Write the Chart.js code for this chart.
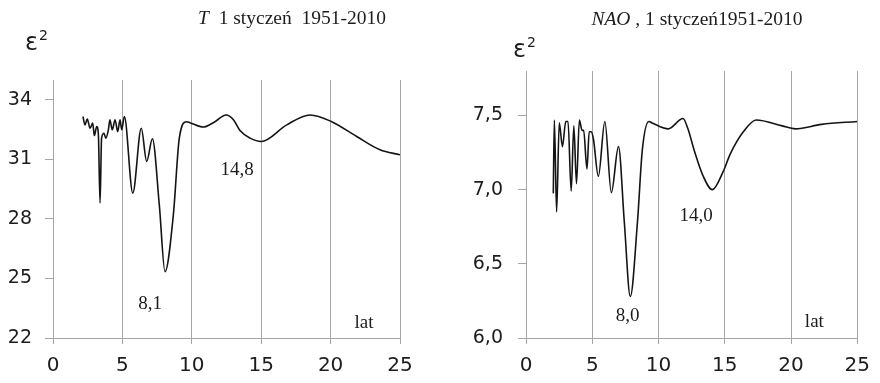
<!DOCTYPE html>
<html>
<head>
<meta charset="utf-8">
<script src="https://cdn.jsdelivr.net/npm/chart.js@4.4.1/dist/chart.umd.min.js"></script>
<style>
  body { margin: 0; background: #fff; }
  .panel { position: absolute; top: 0; width: 440px; height: 383px; }
  #left { left: 0; }
  #right { left: 440px; }
</style>
</head>
<body>
<div class="panel" id="left"><canvas id="chart-t"></canvas></div>
<div class="panel" id="right"><canvas id="chart-nao"></canvas></div>
<script>
// T, 1 styczeń 1951-2010
const tPeriods = [2.16, 2.3, 2.47, 2.67, 2.86, 2.98, 3.15, 3.27, 3.39, 3.5, 3.67, 3.8, 3.99, 4.1, 4.27, 4.47, 4.66, 4.83, 4.95, 5.14,
  5.75, 6.36, 6.75, 7.16, 7.66, 8.07, 8.67, 9.1, 9.63, 9.87, 10.83, 11.67, 12.46, 13.0, 13.47, 14.2, 15.0, 16.84, 18.52, 20.08, 21.88, 23.56, 25.0];
const tErrors = [33.16, 32.74, 33.03, 32.57, 32.83, 32.2, 32.66, 32.24, 28.8, 32.07, 32.32, 32.07, 32.49, 33.0, 32.49, 33.0, 32.4, 33.0, 32.49, 33.16,
  29.3, 32.57, 30.9, 32.04, 28.7, 25.34, 28.2, 32.07, 32.9, 32.85, 32.63, 32.9, 33.24, 33.0, 32.45, 32.07, 31.9, 32.74, 33.24, 32.9, 32.15, 31.48, 31.23];
const tTicks = [22, 25, 28, 31, 34];

// NAO, 1 styczeń 1951-2010
const naoPeriods = [2.06, 2.14, 2.31, 2.51, 2.75, 3.0, 3.17, 3.41, 3.61, 3.81, 4.03, 4.23, 4.35, 4.6, 4.77, 4.92, 5.09, 5.46, 5.95, 6.44,
  6.98, 7.42, 7.87, 8.41, 8.78, 9.27, 9.51, 10.74, 11.85, 12.22, 12.71, 13.33, 14.06, 14.87, 15.41, 16.4, 17.37, 19.34, 20.33, 22.3, 25.0];
const naoErrors = [6.975, 7.47, 6.85, 7.45, 7.29, 7.46, 7.46, 6.99, 7.43, 7.04, 7.47, 7.40, 7.40, 7.14, 7.39, 7.39, 7.34, 7.09, 7.46, 6.98,
  7.29, 6.78, 6.28, 6.78, 7.27, 7.46, 7.45, 7.41, 7.48, 7.41, 7.26, 7.10, 7.0, 7.12, 7.24, 7.39, 7.47, 7.43, 7.41, 7.44, 7.46];
const naoTicks = [6.0, 6.5, 7.0, 7.5];

const xTicks = [0, 5, 10, 15, 20, 25];

const GRID = '#a6a6a6';
const TEXT = '#1c1c1c';
const SANS = '"DejaVu Sans", sans-serif';
const SERIF = '"Liberation Serif", "Times New Roman", serif';

/** Titles, epsilon label and in-plot annotations */
const textPlugin = {
  id: 'texts',
  afterDraw(chart, args, opts) {
    const ctx = chart.ctx;
    ctx.save();
    ctx.fillStyle = TEXT;
    ctx.textBaseline = 'middle';

    // title: italic part + normal part, centred
    ctx.font = 'italic 19.5px ' + SERIF;
    const w1 = ctx.measureText(opts.titleItalic).width;
    ctx.font = '19.5px ' + SERIF;
    const w2 = ctx.measureText(opts.titleRest).width;
    const x = opts.titleX - (w1 + w2) / 2;
    ctx.textAlign = 'left';
    ctx.font = 'italic 19.5px ' + SERIF;
    ctx.fillText(opts.titleItalic, x, opts.titleY);
    ctx.font = '19.5px ' + SERIF;
    ctx.fillText(opts.titleRest, x + w1, opts.titleY);

    // epsilon squared
    ctx.font = '24px ' + SANS;
    ctx.fillText('ε', opts.epsX, opts.epsY);
    const we = ctx.measureText('ε').width;
    ctx.font = '14px ' + SANS;
    ctx.fillText('2', opts.epsX + we + 1, opts.epsY - 8);

    // annotations in data coordinates
    const xs = chart.scales.x, ys = chart.scales.y;
    ctx.textAlign = 'center';
    ctx.font = '19px ' + SERIF;
    opts.notes.forEach(([label, vx, vy]) => {
      ctx.fillText(label, xs.getPixelForValue(vx), ys.getPixelForValue(vy));
    });
    ctx.restore();
  },
};

function makeChart(id, periods, errors, yMin, yMax, yTicks, yFmt, yWidth, padTop, padRight, yPad, texts) {
  return new Chart(document.getElementById(id), {
    type: 'line',
    data: {
      datasets: [{
        data: periods.map((p, i) => ({ x: p, y: errors[i] })),
        borderColor: '#141414',
        borderWidth: 1.6,
        pointRadius: 0,
        cubicInterpolationMode: 'monotone',
        fill: false,
      }],
    },
    options: {
      responsive: true,
      maintainAspectRatio: false,
      animation: false,
      layout: { padding: { top: padTop, right: padRight, left: 0, bottom: 0 } },
      plugins: { legend: { display: false }, tooltip: { enabled: false }, texts: texts },
      scales: {
        x: {
          type: 'linear',
          min: 0,
          max: 25,
          afterBuildTicks: (s) => { s.ticks = xTicks.map((v) => ({ value: v })); },
          afterFit: (s) => { s.height = 45; },
          ticks: { color: TEXT, font: { family: SANS, size: 20 }, padding: 10, maxRotation: 0 },
          grid: { color: GRID, lineWidth: 1, tickLength: 6, drawTicks: true },
          border: { color: GRID, width: 1 },
        },
        y: {
          min: yMin,
          max: yMax,
          afterBuildTicks: (s) => { s.ticks = yTicks.map((v) => ({ value: v })); },
          afterFit: (s) => { s.width = yWidth; },
          ticks: { color: TEXT, font: { family: SANS, size: 19 }, padding: yPad, callback: yFmt },
          grid: { display: true, drawOnChartArea: false, drawTicks: true, tickLength: 8, color: GRID },
          border: { color: GRID, width: 1 },
        },
      },
    },
    plugins: [textPlugin],
  });
}

makeChart('chart-t', tPeriods, tErrors, 22, 35, tTicks, (v) => String(v), 53, 80, 40, 13, {
  titleItalic: 'T', titleRest: '  1 styczeń  1951-2010', titleX: 292, titleY: 19,
  epsX: 25, epsY: 44,
  notes: [['14,8', 13.26, 30.47], ['8,1', 6.99, 23.71], ['lat', 22.4, 22.73]],
});

makeChart('chart-nao', naoPeriods, naoErrors, 6.0, 7.8, naoTicks, (v) => v.toFixed(1).replace('.', ','), 86, 71, 15, 15, {
  titleItalic: 'NAO', titleRest: ' , 1 styczeń1951-2010', titleX: 257, titleY: 20,
  epsX: 73, epsY: 51,
  notes: [['14,0', 12.83, 6.82], ['8,0', 7.67, 6.15], ['lat', 21.76, 6.11]],
});
</script>
</body>
</html>
